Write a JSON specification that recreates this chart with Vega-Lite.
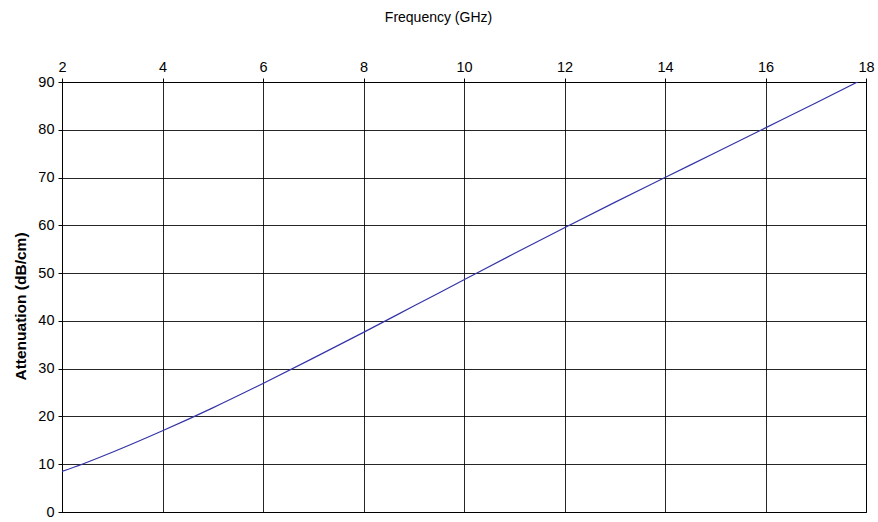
{
  "$schema": "https://vega.github.io/schema/vega-lite/v6.json",
  "width": 804,
  "height": 430,
  "autosize": {"type": "none"},
  "padding": {"left": 62, "top": 82, "right": 12, "bottom": 10},
  "background": "white",
  "config": {
    "font": "Liberation Sans",
    "view": {"stroke": "#000000", "strokeWidth": 1}
  },
  "data": {
    "values": [
      {"freq": 2.0, "att": 8.5},
      {"freq": 2.4, "att": 10.0},
      {"freq": 3.0, "att": 12.5},
      {"freq": 4.0, "att": 17.0},
      {"freq": 5.0, "att": 21.8},
      {"freq": 6.0, "att": 26.9},
      {"freq": 7.0, "att": 32.2},
      {"freq": 8.0, "att": 37.6},
      {"freq": 9.0, "att": 43.1},
      {"freq": 10.0, "att": 48.6},
      {"freq": 11.0, "att": 54.1},
      {"freq": 12.0, "att": 59.5},
      {"freq": 13.0, "att": 64.8},
      {"freq": 14.0, "att": 70.0},
      {"freq": 15.0, "att": 75.2},
      {"freq": 16.0, "att": 80.4},
      {"freq": 17.0, "att": 85.6},
      {"freq": 18.0, "att": 90.9}
    ]
  },
  "mark": {"type": "line", "color": "#3434a8", "strokeWidth": 1.2, "clip": true, "interpolate": "monotone"},
  "encoding": {
    "x": {
      "field": "freq",
      "type": "quantitative",
      "scale": {"domain": [2, 18], "nice": false, "zero": false},
      "axis": {
        "orient": "top",
        "values": [2, 4, 6, 8, 10, 12, 14, 16, 18],
        "title": "Frequency (GHz)",
        "titleFont": "Liberation Sans",
        "titleFontSize": 14,
        "titleFontWeight": "normal",
        "titleColor": "#000000",
        "titleX": 376,
        "titleY": -65,
        "titleAlign": "center",
        "titleBaseline": "middle",
        "labelFontSize": 14.5,
        "labelColor": "#000000",
        "labelPadding": 4,
        "labelFlush": false,
        "tickSize": 4,
        "tickColor": "#000000",
        "domainColor": "#000000",
        "gridColor": "#000000",
        "gridOpacity": 0.85,
        "grid": true
      }
    },
    "y": {
      "field": "att",
      "type": "quantitative",
      "scale": {"domain": [0, 90], "nice": false},
      "axis": {
        "values": [0, 10, 20, 30, 40, 50, 60, 70, 80, 90],
        "title": "Attenuation (dB/cm)",
        "titleFont": "Liberation Sans",
        "titleFontSize": 15.5,
        "titleFontWeight": "bold",
        "titleColor": "#000000",
        "titleX": -42,
        "titleY": 224,
        "titleAlign": "center",
        "titleBaseline": "middle",
        "titleAngle": -90,
        "labelFontSize": 14.5,
        "labelColor": "#000000",
        "labelPadding": 4,
        "labelFlush": false,
        "tickSize": 4,
        "tickColor": "#000000",
        "domainColor": "#000000",
        "gridColor": "#000000",
        "gridOpacity": 0.85,
        "grid": true
      }
    }
  }
}
